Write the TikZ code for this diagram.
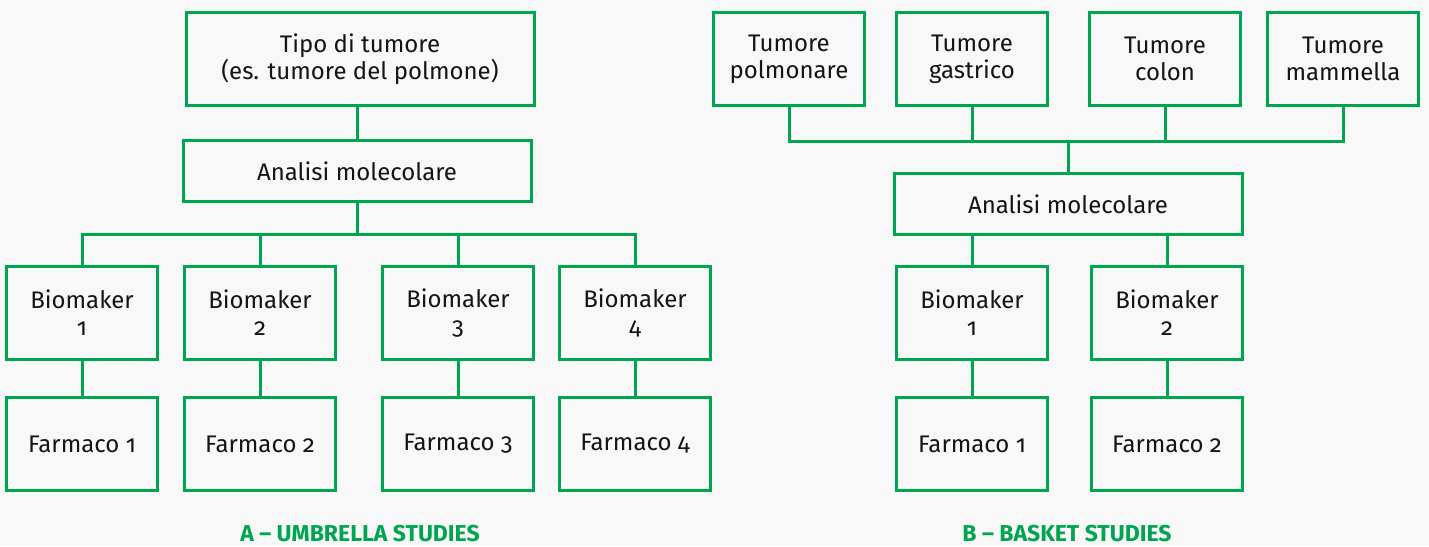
\documentclass[tikz,border=0pt]{standalone}
\usepackage{fontspec}
\setmainfont{Fira Sans}[Numbers=OldStyle]
\usepackage{tikz}

\definecolor{studygreen}{RGB}{0,165,80}
\definecolor{bggray}{RGB}{248,248,248}
\definecolor{textblack}{RGB}{20,20,20}

\begin{document}
\begin{tikzpicture}[x=1pt, y=-1pt,
    box/.style={draw=studygreen, line width=3pt, fill=bggray, text=textblack,
        align=center, inner sep=0pt, font=\fontsize{24}{27}\selectfont},
    wide/.style={box, minimum width=348pt},
    small/.style={box, minimum width=151pt, minimum height=93pt},
    link/.style={draw=studygreen, line width=3pt},
    caption/.style={text=studygreen, anchor=base, inner sep=0pt,
        font=\fontsize{23}{26}\selectfont\bfseries}]
    \path[use as bounding box, fill=bggray] (0,0) rectangle (1429,546);

    % A - umbrella studies
    \node[wide, minimum height=93pt] at (360,59) (tipo) {Tipo di tumore\\(es. tumore del polmone)};
    \node[wide, minimum height=61pt] at (357,171) (anaA) {Analisi molecolare};
    \node[small] at (82,313) (bioA1) {Biomaker\\1};
    \node[small] at (260,313) (bioA2) {Biomaker\\2};
    \node[small] at (458,313) (bioA3) {Biomaker\\3};
    \node[small] at (635,313) (bioA4) {Biomaker\\4};
    \foreach \i/\x in {1/82, 2/260, 3/458, 4/635}
        \node[small] at (\x,444) (farA\i) {Farmaco \i};
    \coordinate (busA) at (357,234);
    \draw[link] (anaA.north) -- (anaA.north |- tipo.south);
    \draw[link] (anaA.south) -- (busA);
    \foreach \i in {1,...,4} {
        \draw[link] (bioA\i.north) |- (busA);
        \draw[link] (bioA\i) -- (farA\i);
    }
    \node[caption] at (360,541) (capA) {A -- UMBRELLA STUDIES};

    % B - basket studies
    \node[small] at (789,59) (tum1) {Tumore\\polmonare};
    \node[small] at (972,59) (tum2) {Tumore\\gastrico};
    \node[small] at (1165,59) (tum3) {Tumore\\colon};
    \node[small] at (1343,59) (tum4) {Tumore\\mammella};
    \node[wide, minimum height=61pt] at (1068,204) (anaB) {Analisi molecolare};
    \node[small] at (972,313) (bioB1) {Biomaker\\1};
    \node[small] at (1167,313) (bioB2) {Biomaker\\2};
    \foreach \i/\x in {1/972, 2/1167}
        \node[small] at (\x,444) (farB\i) {Farmaco \i};
    \coordinate (busB) at (1068,141);
    \draw[link] (anaB.north) -- (busB);
    \foreach \i in {1,...,4}
        \draw[link] (tum\i.south) |- (busB);
    \foreach \i in {1,2} {
        \draw[link] (bioB\i.north) -- (bioB\i.north |- anaB.south);
        \draw[link] (bioB\i) -- (farB\i);
    }
    \node[caption] at (1067,541) (capB) {B -- BASKET STUDIES};
\end{tikzpicture}
\end{document}
